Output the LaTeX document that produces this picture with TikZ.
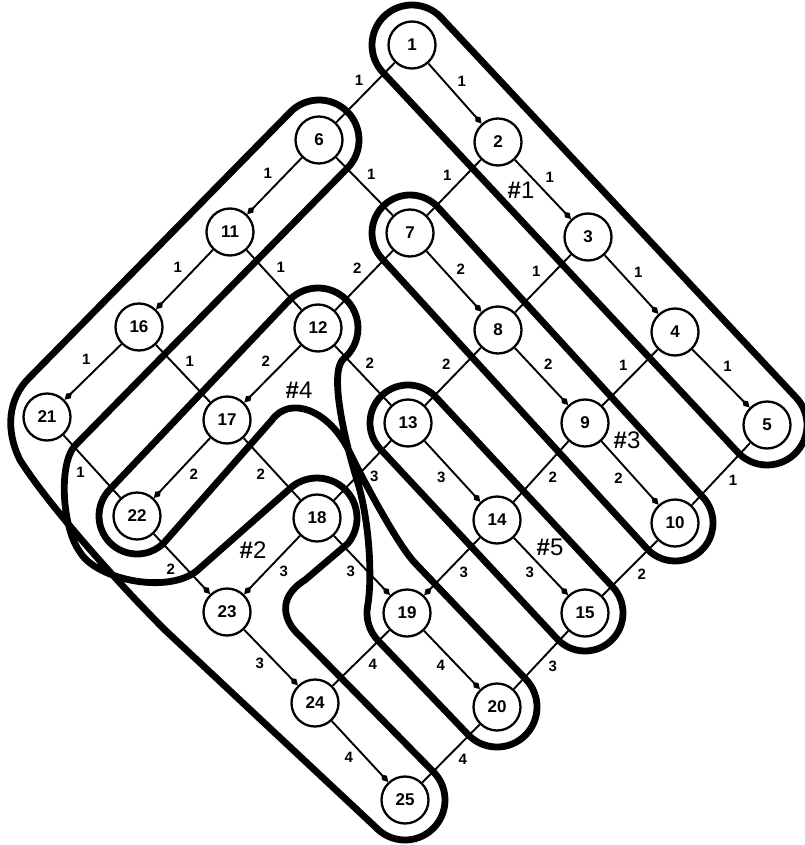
\documentclass[tikz,border=0pt]{standalone}
\usepackage{fontspec}
\setmainfont{Liberation Sans}
\usetikzlibrary{arrows.meta,calc}
\begin{document}
\begin{tikzpicture}[x=1pt,y=1pt,
  vx/.style={circle, draw, line width=2.3pt, minimum size=47pt, inner sep=0pt, fill=white, font=\fontsize{17}{17}\selectfont\bfseries},
  ed/.style={line width=1.9pt},
  arr/.style={ed, -{Kite[length=10pt,width=6.5pt,inset=4.5pt]}},
  lb/.style={font=\fontsize{15}{15}\selectfont\bfseries, inner sep=0pt, pos=0.45},
  ne/.style={lb, xshift=9.5pt, yshift=9.5pt},
  nw/.style={lb, xshift=-9.5pt, yshift=9.5pt},
  se/.style={lb, xshift=9pt, yshift=-9pt},
  sw/.style={lb, xshift=-8.5pt, yshift=-8.5pt},
  contour/.style={line width=6.8pt, line join=round},
  tag/.style={font=\fontsize{24}{24}\selectfont, inner sep=0pt}
]
\useasboundingbox (0,0) rectangle (804,-845);

% nodes
\node[vx] (n1) at (412,-45) {1};
\node[vx] (n2) at (498,-142) {2};
\node[vx] (n3) at (588,-237) {3};
\node[vx] (n4) at (675,-332) {4};
\node[vx] (n5) at (767,-425) {5};
\node[vx] (n6) at (319,-140) {6};
\node[vx] (n7) at (410,-233) {7};
\node[vx] (n8) at (498,-330) {8};
\node[vx] (n9) at (585,-423) {9};
\node[vx] (n10) at (675,-523) {10};
\node[vx] (n11) at (230,-232) {11};
\node[vx] (n12) at (318,-328) {12};
\node[vx] (n13) at (408,-423) {13};
\node[vx] (n14) at (497,-520) {14};
\node[vx] (n15) at (585,-613) {15};
\node[vx] (n16) at (139,-327) {16};
\node[vx] (n17) at (227,-420) {17};
\node[vx] (n18) at (317,-518) {18};
\node[vx] (n19) at (407,-613) {19};
\node[vx] (n20) at (497,-707) {20};
\node[vx] (n21) at (47,-417) {21};
\node[vx] (n22) at (137,-516) {22};
\node[vx] (n23) at (227,-612) {23};
\node[vx] (n24) at (315,-703) {24};
\node[vx] (n25) at (405,-800) {25};

% row edges
\draw[arr] (n1) -- node[ne]{1} (n2);
\draw[arr] (n2) -- node[ne]{1} (n3);
\draw[arr] (n3) -- node[ne]{1} (n4);
\draw[arr] (n4) -- node[ne]{1} (n5);
\draw[ed] (n6) -- node[ne]{1} (n7);
\draw[arr] (n7) -- node[ne]{2} (n8);
\draw[arr] (n8) -- node[ne]{2} (n9);
\draw[arr] (n9) -- node[sw]{2} (n10);
\draw[ed] (n11) -- node[ne]{1} (n12);
\draw[ed] (n12) -- node[ne]{2} (n13);
\draw[arr] (n13) -- node[sw]{3} (n14);
\draw[arr] (n14) -- node[sw]{3} (n15);
\draw[ed] (n16) -- node[ne]{1} (n17);
\draw[ed] (n17) -- node[sw]{2} (n18);
\draw[arr] (n18) -- node[sw]{3} (n19);
\draw[arr] (n19) -- node[sw]{4} (n20);
\draw[ed] (n21) -- node[sw]{1} (n22);
\draw[arr] (n22) -- node[sw]{2} (n23);
\draw[arr] (n23) -- node[sw]{3} (n24);
\draw[arr] (n24) -- node[sw]{4} (n25);
% column edges
\draw[ed] (n1) -- node[nw]{1} (n6);
\draw[arr] (n6) -- node[nw]{1} (n11);
\draw[arr] (n11) -- node[nw]{1} (n16);
\draw[arr] (n16) -- node[nw]{1} (n21);
\draw[ed] (n2) -- node[nw]{1} (n7);
\draw[ed] (n7) -- node[nw]{2} (n12);
\draw[arr] (n12) -- node[nw]{2} (n17);
\draw[arr] (n17) -- node[se]{2} (n22);
\draw[ed] (n3) -- node[nw]{1} (n8);
\draw[ed] (n8) -- node[nw]{2} (n13);
\draw[ed] (n13) -- node[se]{3} (n18);
\draw[arr] (n18) -- node[se]{3} (n23);
\draw[ed] (n4) -- node[nw]{1} (n9);
\draw[ed] (n9) -- node[se]{2} (n14);
\draw[arr] (n14) -- node[se]{3} (n19);
\draw[ed] (n19) -- node[se]{4} (n24);
\draw[ed] (n5) -- node[se]{1} (n10);
\draw[ed] (n10) -- node[se]{2} (n15);
\draw[ed] (n15) -- node[se]{3} (n20);
\draw[ed] (n20) -- node[se]{4} (n25);

% contour #1
\draw[contour] ($(n1)+(43.1:40)$) -- ($(n5)+(43.1:40)$)
  arc[start angle=43.1, end angle=-136.9, radius=40]
  -- ($(n1)+(-136.9:40)$) arc[start angle=-136.9, end angle=-316.9, radius=40] -- cycle;
% contour #3
\draw[contour] ($(n7)+(42.4:38)$) -- ($(n10)+(42.4:38)$)
  arc[start angle=42.4, end angle=-137.6, radius=38]
  -- ($(n7)+(-137.6:38)$) arc[start angle=-137.6, end angle=-317.6, radius=38] -- cycle;
% contour #5
\draw[contour] ($(n13)+(43:38)$) -- ($(n15)+(43:38)$)
  arc[start angle=43, end angle=-137, radius=38]
  -- ($(n13)+(-137:38)$) arc[start angle=-137, end angle=-317, radius=38] -- cycle;
% contour #2
\draw[contour] ($(n6)+(135.5:40)$) arc[start angle=135.5, end angle=-44.5, radius=40]
  -- ($(n21)+(-44.5:40)$)
  .. controls (58,-463) and (62,-528) .. (80,-552)
  .. controls (96,-580) and (172,-596) .. (200,-568)
  -- ($(n18)+(135:40)$) arc[start angle=135, end angle=-40, radius=40]
  -- (305,-580) .. controls (276,-598) and (284,-622) .. (300,-636)
  -- ($(n25)+(43:40)$) arc[start angle=43, end angle=-137, radius=40]
  -- (165,-630) .. controls (110,-575) and (45,-500) .. (20,-460)
  .. controls (5,-430) and (8,-398) .. (30,-377)
  -- cycle;
% contour #4
\draw[contour] ($(n22)+(135:38)$) -- ($(n12)+(135:40)$)
  arc[start angle=135, end angle=-50, radius=40]
  .. controls (328.4,-371.5) and (345,-441.8) .. (357,-480)
  .. controls (369,-518.2) and (372.8,-576.5) .. ($(n19)+(170:40)$)
  arc[start angle=170, end angle=223.7, radius=40]
  -- ($(n20)+(223.7:40)$) arc[start angle=223.7, end angle=403.7, radius=40]
  -- (415,-563)
  .. controls (397.7,-544.9) and (363.2,-480) .. (350,-453)
  .. controls (330,-410) and (290,-395) .. (272,-420)
  -- ($(n22)+(-45:38)$) arc[start angle=-45, end angle=-225, radius=38] -- cycle;

% tags
\node[tag] (t1) at (521,-190) {{\bfseries\#}1};
\node[tag] (t2) at (253,-550) {{\bfseries\#}2};
\node[tag] (t3) at (627,-440) {{\bfseries\#}3};
\node[tag] (t4) at (299,-390) {{\bfseries\#}4};
\node[tag] (t5) at (550,-547) {{\bfseries\#}5};
\end{tikzpicture}
\end{document}
